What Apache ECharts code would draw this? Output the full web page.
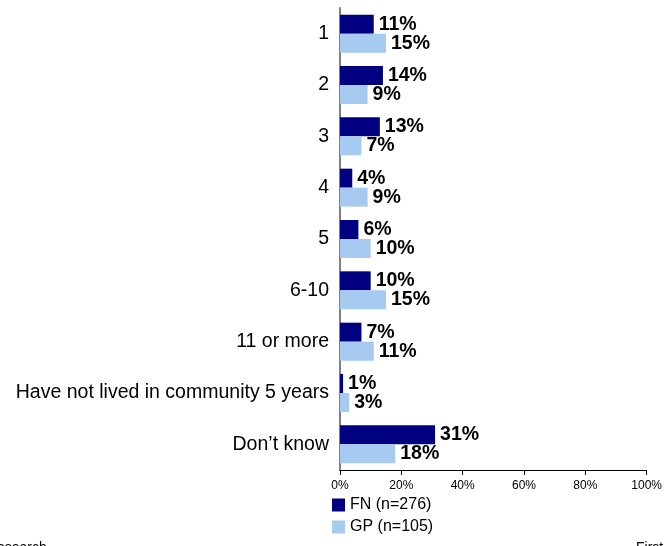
<!DOCTYPE html>
<html>
<head>
<meta charset="utf-8">
<script src="https://cdn.jsdelivr.net/npm/echarts@6/dist/echarts.min.js"></script>
<style>html,body{margin:0;padding:0;background:#fff;}#c{width:665px;height:546px;}</style>
</head>
<body>
<div id="c"></div>
<script>
const categories = ['1', '2', '3', '4', '5', '6-10', '11 or more', 'Have not lived in community 5 years', 'Don\u2019t know'];
const fnValues = [11, 14, 13, 4, 6, 10, 7, 1, 31];
const gpValues = [15, 9, 7, 9, 10, 15, 11, 3, 18];
const seriesNames = ['FN (n=276)', 'GP (n=105)'];
const xTicks = [0, 20, 40, 60, 80, 100];

const chart = echarts.init(document.getElementById('c'));
const font = 'Liberation Sans, Arial, sans-serif';
const labelStyle = {
  show: true, position: 'right', distance: 5,
  formatter: p => p.value + '%',
  fontFamily: font, fontSize: 19.5, fontWeight: 'bold', color: '#000'
};
const legendCommon = {
  left: 327, itemWidth: 13, itemHeight: 13, icon: 'rect', itemGap: 0,
  textStyle: { fontFamily: font, fontSize: 16, color: '#000' }
};
chart.setOption({
  animation: false,
  grid: { left: 340, right: 14, top: 8, bottom: 76 },
  xAxis: {
    type: 'value', min: xTicks[0], max: xTicks[xTicks.length - 1], interval: 20,
    axisLine: { show: true, lineStyle: { color: '#000', width: 1 } },
    axisTick: { show: true, length: 5, lineStyle: { color: '#000' } },
    splitLine: { show: false },
    axisLabel: { formatter: '{value}%', fontFamily: font, fontSize: 12, color: '#000', margin: 10 }
  },
  yAxis: {
    type: 'category', data: categories, inverse: true,
    axisLine: { show: true, lineStyle: { color: '#808080', width: 2 } },
    axisTick: { show: false },
    axisLabel: { fontFamily: font, fontSize: 19.5, color: '#000', margin: 11 }
  },
  legend: [
    Object.assign({ top: 492, data: [seriesNames[0]] }, legendCommon),
    Object.assign({ top: 514, data: [seriesNames[1]] }, legendCommon)
  ],
  series: [
    { name: seriesNames[0], type: 'bar', data: fnValues, barCategoryGap: '26%', barGap: '0%',
      itemStyle: { color: '#000080' }, label: labelStyle },
    { name: seriesNames[1], type: 'bar', data: gpValues, barCategoryGap: '26%', barGap: '0%',
      itemStyle: { color: '#a6caf0' }, label: labelStyle }
  ],
  graphic: [
    { type: 'text', left: -3, top: 541, style: { text: 'esearch', font: '14px ' + font, fill: '#000' } },
    { type: 'text', left: 636, top: 541, style: { text: 'First', font: '14px ' + font, fill: '#000' } }
  ]
});
</script>
</body>
</html>
